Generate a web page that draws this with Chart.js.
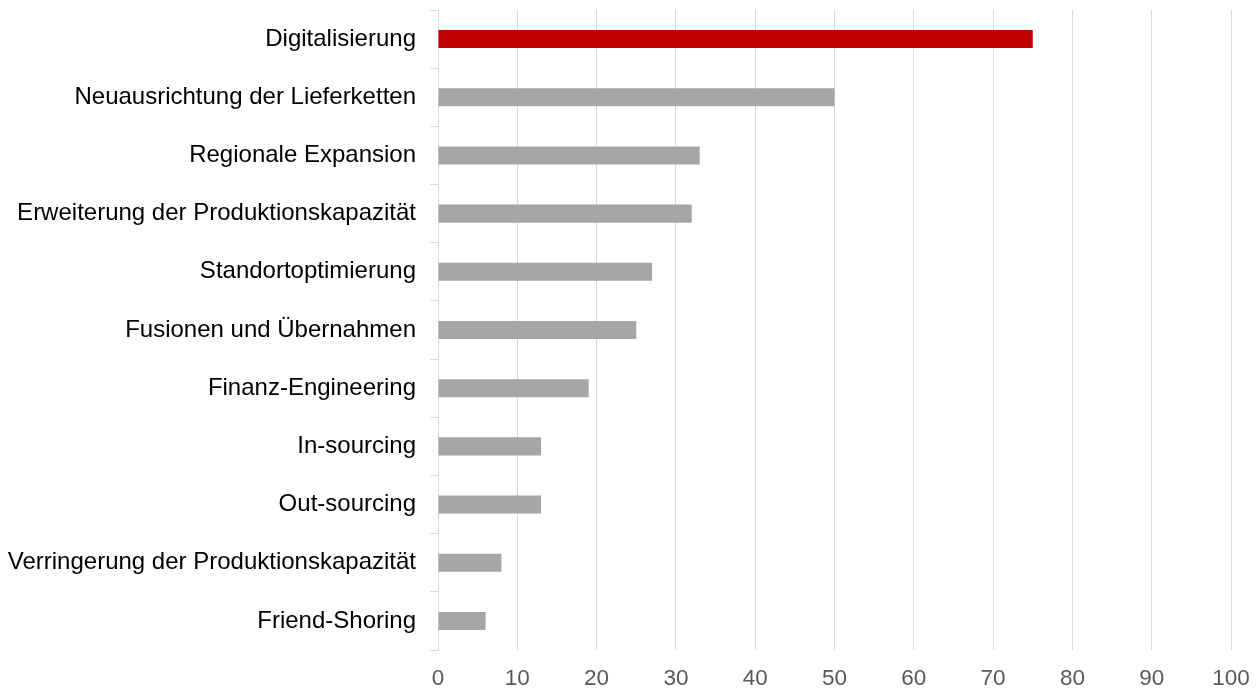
<!DOCTYPE html>
<html>
<head>
<meta charset="utf-8">
<script src="https://cdn.jsdelivr.net/npm/chart.js@4"></script>
<style>
  html, body { margin: 0; padding: 0; background: #fff; }
  #wrap { width: 1259px; height: 690px; position: relative; }
</style>
</head>
<body>
<div id="wrap"><canvas id="chart"></canvas></div>
<script>
    "use strict";

    var categories = [
        "Digitalisierung",
        "Neuausrichtung der Lieferketten",
        "Regionale Expansion",
        "Erweiterung der Produktionskapazität",
        "Standortoptimierung",
        "Fusionen und Übernahmen",
        "Finanz-Engineering",
        "In-sourcing",
        "Out-sourcing",
        "Verringerung der Produktionskapazität",
        "Friend-Shoring"
    ];
    var values = [75, 50, 33, 32, 27, 25, 19, 13, 13, 8, 6];
    var xTicks = [0, 10, 20, 30, 40, 50, 60, 70, 80, 90, 100];

    // first bar is highlighted, the rest are gray
    var barColors = values.map(function (v, i) {
        return i === 0 ? "#c00000" : "#a6a6a6";
    });

    var fontFamily = "'Liberation Sans', Arial, Helvetica, sans-serif";

    new Chart(document.getElementById("chart"), {
        type: "bar",
        data: {
            labels: categories,
            datasets: [{
                data: values,
                backgroundColor: barColors,
                borderWidth: 0,
                categoryPercentage: 1,
                barPercentage: 0.31
            }]
        },
        options: {
            indexAxis: "y",
            responsive: true,
            maintainAspectRatio: false,
            animation: false,
            layout: { padding: { top: 10, right: 28, left: 0, bottom: 0 } },
            plugins: {
                legend: { display: false },
                tooltip: { enabled: false }
            },
            scales: {
                x: {
                    min: 0,
                    max: 100,
                    afterBuildTicks: function (axis) {
                        axis.ticks = xTicks.map(function (v) { return { value: v }; });
                    },
                    afterFit: function (axis) {
                        axis.height = 40;
                        axis.paddingLeft = 0;
                        axis.paddingRight = 0;
                    },
                    grid: { color: "#d9d9d9", lineWidth: 1, drawTicks: false },
                    border: { display: false },
                    ticks: {
                        color: "#595959",
                        padding: 15,
                        font: { family: fontFamily, size: 22.5 }
                    }
                },
                y: {
                    // fixed label column, no extra room above/below for labels
                    afterFit: function (axis) {
                        axis.width = 438;
                        axis.paddingTop = 0;
                        axis.paddingBottom = 0;
                    },
                    grid: {
                        drawOnChartArea: false,
                        color: "#d9d9d9",
                        tickLength: 8
                    },
                    border: { display: true, color: "#d9d9d9" },
                    ticks: {
                        color: "#000000",
                        padding: 14,
                        font: { family: fontFamily, size: 24 }
                    }
                }
            }
        }
    });
</script>
</body>
</html>
